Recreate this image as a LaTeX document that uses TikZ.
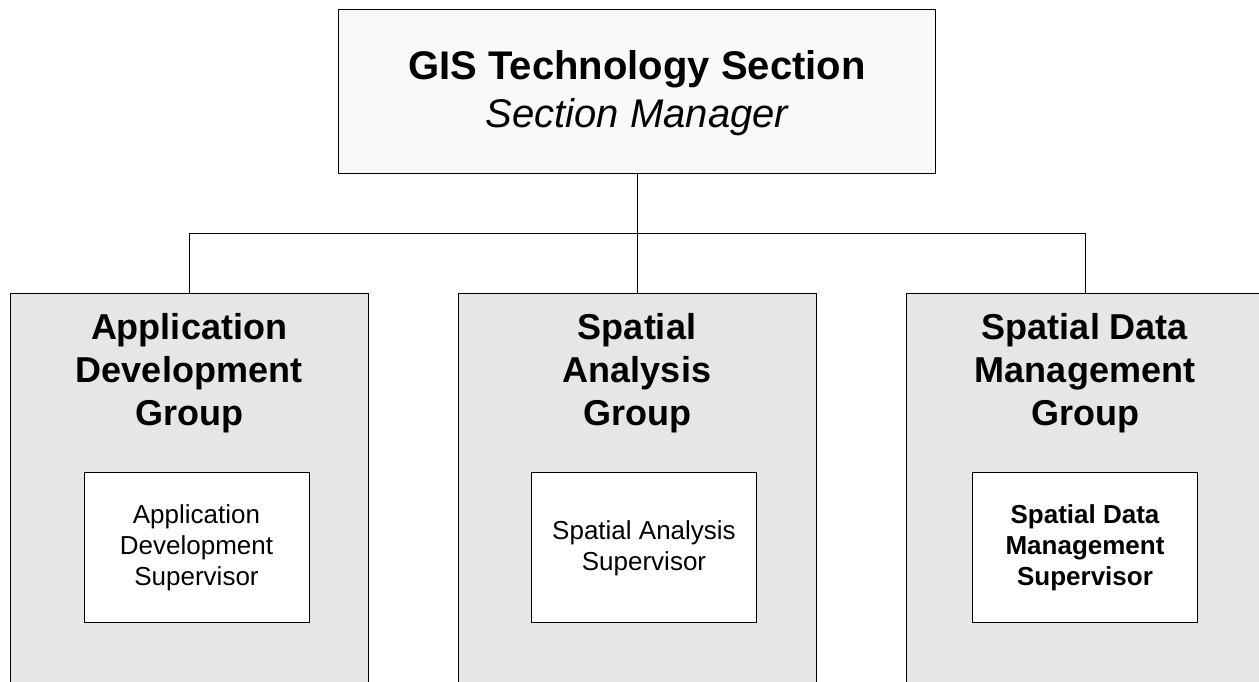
\documentclass[tikz,border=0pt]{standalone}
\usepackage{fontspec}
\setmainfont{Liberation Sans}
\definecolor{topfill}{RGB}{249,249,249}
\definecolor{grpfill}{RGB}{230,230,230}
\begin{document}
\begin{tikzpicture}[x=1pt,y=-1pt,
  box/.style={draw=black,line width=1pt,rectangle,inner sep=0pt},
  topbox/.style={box,fill=topfill,minimum width=597pt,minimum height=164pt},
  grpbox/.style={box,fill=grpfill,minimum width=358pt,minimum height=407pt},
  supbox/.style={box,fill=white,minimum width=225pt,minimum height=150pt},
  toptxt/.style={anchor=north,inner sep=0pt,align=center,font=\fontsize{40}{48}\selectfont},
  ttl/.style={anchor=north,inner sep=0pt,align=center,font=\bfseries\fontsize{36}{43}\selectfont},
  suptxt/.style={anchor=north,inner sep=0pt,align=center,font=\fontsize{26}{31}\selectfont},
  link/.style={draw=black,line width=1pt}]
\clip (0,0) rectangle (1259,681);
\fill[white] (0,0) rectangle (1259,681);
% top box
\node[topbox] (sec) at (637,91) {};
\node[toptxt] (sectxt) at (637,50) {{\bfseries GIS Technology Section}\\{\itshape Section Manager}};
% group boxes
\node[grpbox] (g1) at (189,496.5) {};
\node[grpbox] (g2) at (637,496.5) {};
\node[grpbox] (g3) at (1085,496.5) {};
\node[ttl] (g1t) at (189,313) {Application\\Development\\Group};
\node[ttl] (g2t) at (637,313) {Spatial\\Analysis\\Group};
\node[ttl] (g3t) at (1085,313) {Spatial Data\\Management\\Group};
% supervisor boxes
\node[supbox] (s1) at (196.5,547) {};
\node[supbox] (s2) at (644,547) {};
\node[supbox] (s3) at (1085,547) {};
\node[suptxt] (s1t) at (196.5,504) {Application\\Development\\Supervisor};
\node[suptxt] (s2t) at (644,520) {Spatial Analysis\\Supervisor};
\node[suptxt,font=\bfseries\fontsize{26}{31}\selectfont] (s3t) at (1085,504) {Spatial Data\\Management\\Supervisor};
% connectors
\coordinate (bus) at (637,233);
\draw[link] (sec.south) -- (bus);
\draw[link] (bus) -| (g1.north);
\draw[link] (bus) -- (g2.north);
\draw[link] (bus) -| (g3.north);
\end{tikzpicture}
\end{document}
